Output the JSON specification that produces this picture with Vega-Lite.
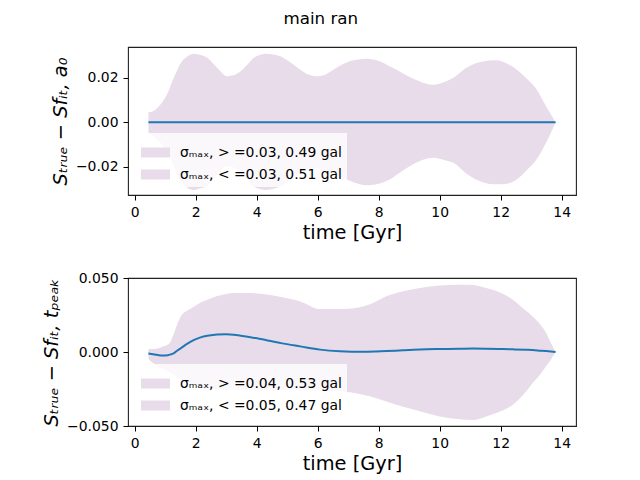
{
  "$schema": "https://vega.github.io/schema/vega-lite/v6.json",
  "background": "white",
  "padding": {"left": 41, "top": 10, "right": 5, "bottom": 5},
  "title": {
    "text": "main ran",
    "anchor": "middle",
    "fontSize": 16.7,
    "fontWeight": "normal",
    "font": "DejaVu Sans",
    "color": "#000000",
    "offset": 19,
    "dx": 12
  },
  "datasets": {
    "top": [
      {"t": 0.45, "hi": 0.0045, "lo": -0.0048, "d": 0},
      {"t": 0.6, "hi": 0.005, "lo": -0.006, "d": 0},
      {"t": 0.75, "hi": 0.0065, "lo": -0.008, "d": 0},
      {"t": 0.9, "hi": 0.009, "lo": -0.01, "d": 0},
      {"t": 1.08, "hi": 0.0132, "lo": -0.0135, "d": 0},
      {"t": 1.25, "hi": 0.019, "lo": -0.019, "d": 0},
      {"t": 1.4, "hi": 0.0237, "lo": -0.024, "d": 0},
      {"t": 1.55, "hi": 0.0275, "lo": -0.0275, "d": 0},
      {"t": 1.67, "hi": 0.029, "lo": -0.029, "d": 0},
      {"t": 1.8, "hi": 0.0303, "lo": -0.0302, "d": 0},
      {"t": 1.95, "hi": 0.0309, "lo": -0.0305, "d": 0},
      {"t": 2.1, "hi": 0.0305, "lo": -0.03, "d": 0},
      {"t": 2.38, "hi": 0.029, "lo": -0.0285, "d": 0},
      {"t": 2.6, "hi": 0.026, "lo": -0.025, "d": 0},
      {"t": 2.82, "hi": 0.0229, "lo": -0.022, "d": 0},
      {"t": 3.03, "hi": 0.0207, "lo": -0.0198, "d": 0},
      {"t": 3.2, "hi": 0.021, "lo": -0.0202, "d": 0},
      {"t": 3.46, "hi": 0.0229, "lo": -0.0225, "d": 0},
      {"t": 3.7, "hi": 0.026, "lo": -0.0262, "d": 0},
      {"t": 3.9, "hi": 0.029, "lo": -0.029, "d": 0},
      {"t": 4.1, "hi": 0.0303, "lo": -0.0301, "d": 0},
      {"t": 4.3, "hi": 0.0309, "lo": -0.0305, "d": 0},
      {"t": 4.55, "hi": 0.0305, "lo": -0.03, "d": 0},
      {"t": 4.78, "hi": 0.0297, "lo": -0.029, "d": 0},
      {"t": 5.1, "hi": 0.027, "lo": -0.026, "d": 0},
      {"t": 5.43, "hi": 0.0237, "lo": -0.023, "d": 0},
      {"t": 5.7, "hi": 0.0215, "lo": -0.021, "d": 0},
      {"t": 5.97, "hi": 0.0207, "lo": -0.0205, "d": 0},
      {"t": 6.2, "hi": 0.0212, "lo": -0.0225, "d": 0},
      {"t": 6.51, "hi": 0.0237, "lo": -0.0235, "d": 0},
      {"t": 6.8, "hi": 0.026, "lo": -0.0248, "d": 0},
      {"t": 7.17, "hi": 0.0279, "lo": -0.027, "d": 0},
      {"t": 7.6, "hi": 0.0286, "lo": -0.0284, "d": 0},
      {"t": 8.04, "hi": 0.0274, "lo": -0.0276, "d": 0},
      {"t": 8.4, "hi": 0.025, "lo": -0.0255, "d": 0},
      {"t": 8.69, "hi": 0.0229, "lo": -0.0228, "d": 0},
      {"t": 9.0, "hi": 0.0205, "lo": -0.02, "d": 0},
      {"t": 9.35, "hi": 0.0184, "lo": -0.0175, "d": 0},
      {"t": 9.78, "hi": 0.0169, "lo": -0.016, "d": 0},
      {"t": 10.2, "hi": 0.0184, "lo": -0.0172, "d": 0},
      {"t": 10.45, "hi": 0.02, "lo": -0.0183, "d": 0},
      {"t": 10.86, "hi": 0.0244, "lo": -0.023, "d": 0},
      {"t": 11.0, "hi": 0.0255, "lo": -0.0243, "d": 0},
      {"t": 11.41, "hi": 0.0274, "lo": -0.027, "d": 0},
      {"t": 11.85, "hi": 0.0279, "lo": -0.028, "d": 0},
      {"t": 12.17, "hi": 0.0267, "lo": -0.0278, "d": 0},
      {"t": 12.6, "hi": 0.0229, "lo": -0.025, "d": 0},
      {"t": 12.9, "hi": 0.019, "lo": -0.021, "d": 0},
      {"t": 13.14, "hi": 0.0155, "lo": -0.0175, "d": 0},
      {"t": 13.49, "hi": 0.0072, "lo": -0.0093, "d": 0},
      {"t": 13.8, "hi": 0, "lo": 0, "d": 0}
    ],
    "bot": [
      {"t": 0.45, "hi": 0.002, "lo": -0.0047, "d": -0.001},
      {"t": 0.6, "hi": 0.0021, "lo": -0.0075, "d": -0.0015},
      {"t": 0.75, "hi": 0.0024, "lo": -0.0097, "d": -0.002},
      {"t": 0.9, "hi": 0.0035, "lo": -0.0115, "d": -0.0024},
      {"t": 1.09, "hi": 0.005, "lo": -0.0131, "d": -0.0022},
      {"t": 1.2, "hi": 0.008, "lo": -0.0145, "d": -0.0015},
      {"t": 1.29, "hi": 0.0128, "lo": -0.0155, "d": -0.0007},
      {"t": 1.4, "hi": 0.019, "lo": -0.017, "d": 0.001},
      {"t": 1.51, "hi": 0.024, "lo": -0.0185, "d": 0.0025},
      {"t": 1.73, "hi": 0.028, "lo": -0.021, "d": 0.0056},
      {"t": 1.95, "hi": 0.0308, "lo": -0.0225, "d": 0.0082},
      {"t": 2.16, "hi": 0.0335, "lo": -0.0235, "d": 0.0099},
      {"t": 2.38, "hi": 0.0353, "lo": -0.0243, "d": 0.011},
      {"t": 2.71, "hi": 0.0378, "lo": -0.025, "d": 0.0119},
      {"t": 3.0, "hi": 0.0392, "lo": -0.0253, "d": 0.012},
      {"t": 3.25, "hi": 0.0399, "lo": -0.0255, "d": 0.0117},
      {"t": 3.7, "hi": 0.0399, "lo": -0.0256, "d": 0.0103},
      {"t": 4.12, "hi": 0.0394, "lo": -0.0256, "d": 0.0088},
      {"t": 4.8, "hi": 0.0372, "lo": -0.0257, "d": 0.006},
      {"t": 5.43, "hi": 0.0342, "lo": -0.0258, "d": 0.0038},
      {"t": 6.08, "hi": 0.029, "lo": -0.026, "d": 0.0016},
      {"t": 6.73, "hi": 0.029, "lo": -0.0266, "d": 0.0005},
      {"t": 7.49, "hi": 0.0308, "lo": -0.0289, "d": 0.0001},
      {"t": 7.9, "hi": 0.034, "lo": -0.031, "d": 0.0003},
      {"t": 8.25, "hi": 0.0376, "lo": -0.0334, "d": 0.0006},
      {"t": 8.8, "hi": 0.041, "lo": -0.037, "d": 0.0012},
      {"t": 9.35, "hi": 0.0432, "lo": -0.0401, "d": 0.0017},
      {"t": 10.0, "hi": 0.045, "lo": -0.0435, "d": 0.002},
      {"t": 10.66, "hi": 0.0455, "lo": -0.0455, "d": 0.0022},
      {"t": 11.1, "hi": 0.0453, "lo": -0.046, "d": 0.0023},
      {"t": 11.53, "hi": 0.0432, "lo": -0.0435, "d": 0.0022},
      {"t": 12.0, "hi": 0.04, "lo": -0.04, "d": 0.002},
      {"t": 12.4, "hi": 0.0353, "lo": -0.0356, "d": 0.0018},
      {"t": 12.82, "hi": 0.028, "lo": -0.027, "d": 0.0015},
      {"t": 13.05, "hi": 0.024, "lo": -0.021, "d": 0.0013},
      {"t": 13.3, "hi": 0.0185, "lo": -0.015, "d": 0.0009},
      {"t": 13.49, "hi": 0.0128, "lo": -0.0097, "d": 0.0006},
      {"t": 13.65, "hi": 0.006, "lo": -0.005, "d": 0.0003},
      {"t": 13.8, "hi": 0, "lo": 0, "d": 0}
    ]
  },
  "vconcat": [
    {
      "width": 448,
      "height": 148,
      "data": {"name": "top"},
      "encoding": {
        "x": {
          "field": "t",
          "type": "quantitative",
          "title": "time [Gyr]",
          "scale": {"domain": [-0.22, 14.47], "nice": false, "zero": false},
          "axis": {"values": [0, 2, 4, 6, 8, 10, 12, 14], "format": "d"}
        }
      },
      "layer": [
        {
          "mark": {"type": "area", "interpolate": "monotone", "opacity": 1},
          "encoding": {
            "y": {
              "field": "hi",
              "type": "quantitative",
              "title": "Sₜᵣᵤₑ − Sfᵢₜ, a₀",
              "scale": {"domain": [-0.0328, 0.0339], "nice": false, "zero": false},
              "axis": {"values": [-0.02, 0, 0.02], "format": ".2f"}
            },
            "y2": {"datum": 0},
            "color": {
              "datum": "σₘₐₓ, > =0.03, 0.49 gal",
              "scale": {
                "domain": ["σₘₐₓ, > =0.03, 0.49 gal", "σₘₐₓ, < =0.03, 0.51 gal"],
                "range": ["#e9dcea", "#e9dcea"]
              },
              "legend": {"title": null}
            }
          }
        },
        {
          "mark": {"type": "area", "interpolate": "monotone", "opacity": 1},
          "encoding": {
            "y": {"field": "lo", "type": "quantitative"},
            "y2": {"datum": 0},
            "color": {"datum": "σₘₐₓ, < =0.03, 0.51 gal"}
          }
        },
        {
          "mark": {"type": "line", "interpolate": "monotone", "color": "#1f77b4", "strokeWidth": 2},
          "encoding": {"y": {"field": "d", "type": "quantitative"}}
        }
      ]
    },
    {
      "width": 448,
      "height": 148,
      "data": {"name": "bot"},
      "encoding": {
        "x": {
          "field": "t",
          "type": "quantitative",
          "title": "time [Gyr]",
          "scale": {"domain": [-0.22, 14.47], "nice": false, "zero": false},
          "axis": {"values": [0, 2, 4, 6, 8, 10, 12, 14], "format": "d"}
        }
      },
      "layer": [
        {
          "mark": {"type": "area", "interpolate": "monotone", "opacity": 1},
          "encoding": {
            "y": {
              "field": "hi",
              "type": "quantitative",
              "title": "Sₜᵣᵤₑ − Sfᵢₜ, tₚₑₐₖ",
              "scale": {"domain": [-0.05, 0.05], "nice": false, "zero": false},
              "axis": {"values": [-0.05, -0.025, 0, 0.025, 0.05], "format": ".3f"}
            },
            "y2": {"datum": 0},
            "color": {
              "datum": "σₘₐₓ, > =0.04, 0.53 gal",
              "scale": {
                "domain": ["σₘₐₓ, > =0.04, 0.53 gal", "σₘₐₓ, < =0.05, 0.47 gal"],
                "range": ["#e9dcea", "#e9dcea"]
              },
              "legend": {"title": null}
            }
          }
        },
        {
          "mark": {"type": "area", "interpolate": "monotone", "opacity": 1},
          "encoding": {
            "y": {"field": "lo", "type": "quantitative"},
            "y2": {"datum": 0},
            "color": {"datum": "σₘₐₓ, < =0.05, 0.47 gal"}
          }
        },
        {
          "mark": {"type": "line", "interpolate": "monotone", "color": "#1f77b4", "strokeWidth": 2},
          "encoding": {"y": {"field": "d", "type": "quantitative"}}
        }
      ]
    }
  ],
  "spacing": 27,
  "resolve": {"scale": {"color": "independent"}},
  "config": {
    "font": "DejaVu Sans",
    "view": {"stroke": "#222222", "strokeWidth": 1.1},
    "axis": {
      "grid": false,
      "domain": false,
      "tickColor": "#000000",
      "tickSize": 5,
      "tickWidth": 1,
      "labelFont": "DejaVu Sans",
      "labelFontSize": 13.9,
      "labelColor": "#000000",
      "labelPadding": 5,
      "titleFont": "DejaVu Sans",
      "titleFontSize": 19.4,
      "titleFontWeight": "normal",
      "titleColor": "#000000",
      "titlePadding": 5
    },
    "axisY": {"titleFontStyle": "italic"},
    "legend": {
      "orient": "bottom-left",
      "offset": 8,
      "padding": 5,
      "fillColor": "rgba(255,255,255,0.8)",
      "symbolType": "M-1,-0.345H1V0.345H-1Z",
      "symbolSize": 841,
      "symbolStrokeWidth": 0,
      "symbolOpacity": 1,
      "labelFont": "DejaVu Sans",
      "labelFontSize": 13.9,
      "labelColor": "#000000",
      "labelOffset": 10,
      "labelLimit": 400,
      "rowPadding": 0
    }
  }
}
